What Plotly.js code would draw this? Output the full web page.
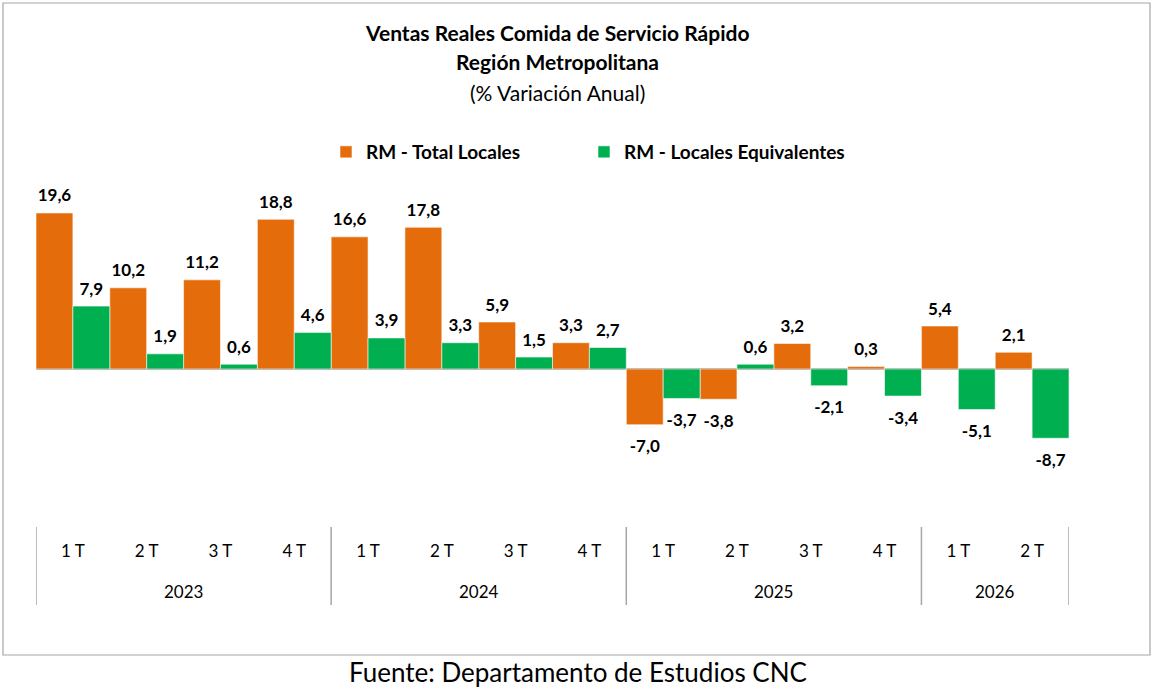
<!DOCTYPE html>
<html lang="es">
<head>
<meta charset="utf-8">
<script src="https://cdn.plot.ly/plotly-3.0.1.min.js"></script>
<style>
  html, body { margin: 0; padding: 0; background: #ffffff; }
  #grafico { width: 1154px; height: 692px; }
</style>
</head>
<body>
<div id="grafico"></div>
<script>
const trimestres = ['1 T', '2 T', '3 T', '4 T', '1 T', '2 T', '3 T', '4 T', '1 T', '2 T', '3 T', '4 T', '1 T', '2 T'];
const anios = ['2023', '2023', '2023', '2023', '2024', '2024', '2024', '2024', '2025', '2025', '2025', '2025', '2026', '2026'];
const totalLocales = [19.6, 10.2, 11.2, 18.8, 16.6, 17.8, 5.9, 3.3, -7.0, -3.8, 3.2, 0.3, 5.4, 2.1];
const localesEquivalentes = [7.9, 1.9, 0.6, 4.6, 3.9, 3.3, 1.5, 2.7, -3.7, 0.6, -2.1, -3.4, -5.1, -8.7];

const FUENTE = 'Lato, "Open Sans", sans-serif';
const GRIS = '#A6A6A6';

// margenes del area de dibujo (px)
const M = { l: 36, r: 85, t: 170, b: 165 };
const ANCHO = 1154;
const ALTO = 692;
const altoPlot = ALTO - M.t - M.b;
const anchoPlot = ANCHO - M.l - M.r;

function pyAPaper(py) {
  return (ALTO - M.b - py) / altoPlot;
}

function pxAPaper(px) {
  return (px - M.l) / anchoPlot;
}

const posiciones = trimestres.map((_, i) => i);

// grupos por año
const grupos = [];
anios.forEach((anio, i) => {
  const ultimo = grupos[grupos.length - 1];
  if (ultimo && ultimo.anio === anio) {
    ultimo.fin = i;
  } else {
    grupos.push({ anio, inicio: i, fin: i });
  }
});

function crearBarras(nombre, valores, color, grupo, leyenda) {
  return {
    type: 'bar',
    name: nombre,
    legend: leyenda,
    x: posiciones,
    y: valores,
    offsetgroup: grupo,
    marker: { color, line: { color: 'rgba(255,255,255,0.7)', width: 0.8 } },
    hoverinfo: 'skip'
  };
}

// etiquetas de datos: texto sobre (o bajo) cada barra, alineado con su grupo
function crearEtiquetas(valores, grupo) {
  return {
    type: 'scatter',
    mode: 'markers+text',
    x: posiciones,
    y: valores,
    offsetgroup: grupo,
    showlegend: false,
    text: valores.map(v => v.toFixed(1).replace('.', ',')),
    textposition: valores.map(v => (v >= 0 ? 'top center' : 'bottom center')),
    textfont: { family: FUENTE, size: 17, color: '#000000', weight: 'bold' },
    marker: {
      size: valores.map(v => (v >= 0 ? 10 : 22)),
      color: 'rgba(0,0,0,0)',
      line: { width: 0 }
    },
    cliponaxis: false,
    hoverinfo: 'skip'
  };
}

const trazas = [
  crearBarras('RM - Total Locales', totalLocales, '#E46C0A', 'a', 'legend'),
  crearBarras('RM - Locales Equivalentes', localesEquivalentes, '#00B050', 'b', 'legend2'),
  crearEtiquetas(totalLocales, 'a'),
  crearEtiquetas(localesEquivalentes, 'b')
];

const divisores = [];
grupos.forEach((g, k) => {
  if (k === 0) divisores.push(g.inicio - 0.5);
  divisores.push(g.fin + 0.5);
});

const shapes = divisores.map(xv => ({
  type: 'line',
  xref: 'x',
  yref: 'paper',
  x0: xv,
  x1: xv,
  y0: 0,
  y1: pyAPaper(605),
  line: { color: GRIS, width: 1.5 }
}));

// marco del grafico
shapes.push({
  type: 'rect',
  xref: 'paper',
  yref: 'paper',
  x0: pxAPaper(3),
  x1: pxAPaper(1150),
  y0: pyAPaper(655),
  y1: pyAPaper(3),
  line: { color: GRIS, width: 1.2 },
  fillcolor: 'rgba(0,0,0,0)'
});

const annotations = grupos.map(g => ({
  xref: 'x',
  yref: 'paper',
  x: (g.inicio + g.fin) / 2,
  y: pyAPaper(591),
  yanchor: 'middle',
  text: g.anio,
  showarrow: false,
  font: { family: FUENTE, size: 17, color: '#000000' }
}));

const titulos = [
  { texto: '<b>Ventas Reales Comida de Servicio Rápido</b>', py: 32 },
  { texto: '<b>Región Metropolitana</b>', py: 62 },
  { texto: '(% Variación Anual)', py: 92 }
];

titulos.forEach(t => {
  annotations.push({
    xref: 'paper',
    yref: 'paper',
    x: pxAPaper(557),
    y: pyAPaper(t.py),
    yanchor: 'middle',
    text: t.texto,
    showarrow: false,
    font: { family: FUENTE, size: 21, color: '#000000' }
  });
});

annotations.push({
  xref: 'paper',
  yref: 'paper',
  x: pxAPaper(578),
  y: pyAPaper(672),
  yanchor: 'middle',
  text: 'Fuente: Departamento de Estudios CNC',
  showarrow: false,
  font: { family: FUENTE, size: 26, color: '#000000' }
});

function crearLeyenda(px) {
  return {
    orientation: 'h',
    x: pxAPaper(px),
    xanchor: 'left',
    y: pyAPaper(152),
    yanchor: 'middle',
    itemwidth: 30,
    font: { family: FUENTE, size: 19, color: '#000000', weight: 'bold' },
    bgcolor: 'rgba(0,0,0,0)'
  };
}

const layout = {
  width: ANCHO,
  height: ALTO,
  margin: M,
  paper_bgcolor: '#ffffff',
  plot_bgcolor: '#ffffff',
  separators: ',.',
  font: { family: FUENTE, color: '#000000' },
  barmode: 'group',
  bargap: 0,
  bargroupgap: 0,
  scattermode: 'group',
  scattergap: 0,
  showlegend: true,
  legend: crearLeyenda(326),
  legend2: crearLeyenda(584),
  xaxis: {
    range: [-0.5, trimestres.length - 0.5],
    tickmode: 'array',
    tickvals: posiciones,
    ticktext: trimestres,
    ticks: '',
    showline: false,
    showgrid: false,
    zeroline: false,
    ticklabelstandoff: 12,
    tickfont: { family: FUENTE, size: 17, color: '#000000' },
    fixedrange: true
  },
  yaxis: {
    range: [-19.85, 25.0],
    showticklabels: false,
    showgrid: false,
    ticks: '',
    zeroline: true,
    zerolinecolor: GRIS,
    zerolinewidth: 2,
    fixedrange: true
  },
  shapes,
  annotations
};

Plotly.newPlot('grafico', trazas, layout, { displayModeBar: false, staticPlot: true });
</script>
</body>
</html>
